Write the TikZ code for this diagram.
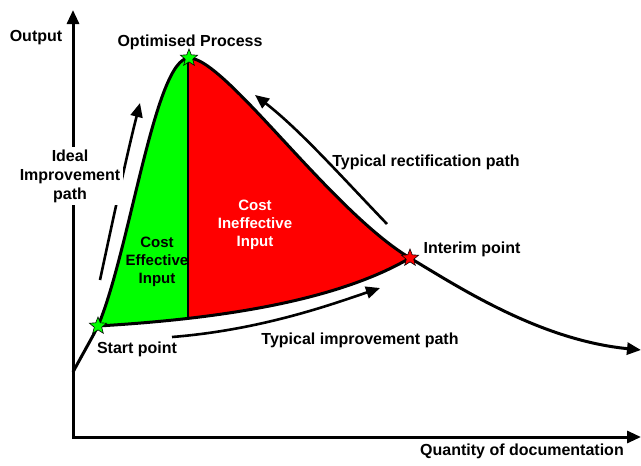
\documentclass[tikz,border=0pt]{standalone}
\usepackage{fontspec}
\setmainfont{Liberation Sans}
\usetikzlibrary{arrows.meta,shapes.geometric}
\begin{document}
\begin{tikzpicture}[x=1pt,y=-1pt,
  lbl/.style={font=\fontsize{16}{19}\selectfont\bfseries, align=center, inner sep=1pt},
  inlbl/.style={font=\fontsize{15}{18}\selectfont\bfseries, align=center, inner sep=0pt},
  thickline/.style={line width=3pt},
  pathline/.style={line width=2.6pt},
  tipend/.style={-{Triangle[length=14pt,width=12pt]}},
  mstar/.style={star, star points=5, star point ratio=2.3, minimum size=18pt, inner sep=0pt, draw=black, line width=0.6pt}]
\useasboundingbox (0,0) rectangle (641,466);
% key points
\coordinate (O) at (73,437);
\coordinate (Y) at (73,10);
\coordinate (X) at (641,437);
\coordinate (A0) at (73,372);
\coordinate (S) at (98,326);
\coordinate (P) at (189,58);
\coordinate (I) at (410,258);
\coordinate (E) at (641,350);
% filled regions
\begin{scope}
\clip (S) .. controls (130,250) and (155,58) .. (P) .. controls (225,58) and (330,210) .. (I) .. controls (330,305) and (200,320) .. (S) -- cycle;
\fill[red] (0,0) rectangle (641,466);
\fill[green] (0,0) rectangle (188,466);
\draw[line width=2pt] (188,0) -- (188,466);
\end{scope}
% axes
\draw[thickline, {Triangle[length=14pt,width=12pt]}-{Triangle[length=14pt,width=12pt]}] (Y) -- (O) -- (X);
% main curve
\draw[thickline, tipend] (A0) .. controls (86,348) and (92,338) .. (S) .. controls (130,250) and (155,58) .. (P) .. controls (225,58) and (330,210) .. (I) .. controls (460,288) and (540,340) .. (E);
\draw[thickline] (S) .. controls (200,320) and (330,305) .. (I);
% path arrows
\coordinate (ia) at (100,280);
\coordinate (ib) at (140,103);
\coordinate (ra) at (387,224);
\coordinate (rb) at (255,95);
\coordinate (pa) at (172,337);
\coordinate (pb) at (380,288);
\draw[pathline, tipend] (ia) .. controls (115,210) and (128,150) .. (ib);
\draw[pathline, tipend] (ra) .. controls (340,175) and (300,130) .. (rb);
\draw[pathline, tipend] (pa) .. controls (260,330) and (330,305) .. (pb);
% stars
\node[mstar, fill=green] (sS) at (S) {};
\node[mstar, fill=green] (sP) at (P) {};
\node[mstar, fill=red] (sI) at (I) {};
% labels
\node[lbl] (out) at (36,38) {Output};
\node[lbl] (qty) at (522,451) {Quantity of documentation};
\node[lbl] (opt) at (190,42) {Optimised Process};
\node[lbl, fill=white, inner sep=3pt] (ideal) at (70,176) {Ideal\\Improvement\\path};
\node[lbl] (rect) at (426,162) {Typical rectification path};
\node[lbl] (intr) at (472,249) {Interim point};
\node[lbl] (st) at (137,349) {Start point};
\node[lbl] (impr) at (360,340) {Typical improvement path};
\node[inlbl] (ce) at (157,262) {Cost\\Effective\\Input};
\node[inlbl, text=white] (ci) at (255,225) {Cost\\Ineffective\\Input};
\end{tikzpicture}
\end{document}
